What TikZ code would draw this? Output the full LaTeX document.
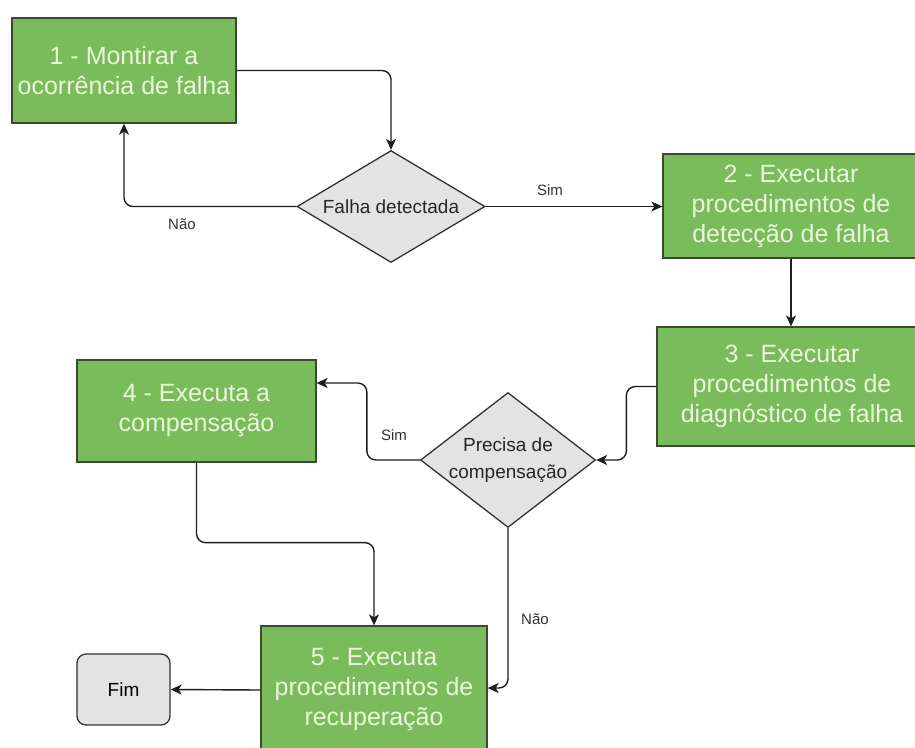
\documentclass[tikz,border=0pt]{standalone}
\usepackage{fontspec}
\setmainfont{Liberation Sans}
\usetikzlibrary{shapes.geometric,arrows.meta,calc}

\definecolor{boxgreen}{RGB}{122,188,92}
\definecolor{boxline}{RGB}{58,72,52}
\definecolor{boxtext}{RGB}{234,248,218}
\definecolor{decfill}{RGB}{227,227,227}
\definecolor{decline}{RGB}{50,50,50}
\definecolor{wire}{RGB}{30,30,30}

\tikzset{
  procbox/.style={rectangle, draw=boxline, fill=boxgreen, line width=1.3pt,
    text=boxtext, align=center, inner sep=0pt,
    font=\fontsize{25}{30}\selectfont},
  decision/.style={diamond, draw=decline, fill=decfill, line width=1.3pt,
    inner sep=0pt, aspect=1.5},
  dectext/.style={align=center, text=black!85, font=\fontsize{19}{27}\selectfont},
  endbox/.style={rectangle, rounded corners=9pt, draw=decline, fill=decfill,
    line width=1.3pt, inner sep=0pt, font=\fontsize{19}{23}\selectfont},
  flow/.style={draw=wire, line width=1.4pt, rounded corners=9pt,
    -{Stealth[length=11pt,width=10pt,inset=3pt]}},
  edgelabel/.style={text=black!80, font=\fontsize{15}{18}\selectfont}
}

\begin{document}
\begin{tikzpicture}[x=1pt,y=-1pt]
\useasboundingbox (0,0) rectangle (915,747);
\clip (0,0) rectangle (915,747);
\fill[white] (0,0) rectangle (915,747);

% process boxes
\node[procbox, minimum width=224pt, minimum height=105pt] (b1) at (124,70.5)
  {1 - Montirar a\\ocorrência de falha};
\node[procbox, minimum width=256pt, minimum height=104pt] (b2) at (791,206)
  {2 - Executar\\procedimentos de\\detecção de falha};
\node[procbox, minimum width=270pt, minimum height=119pt] (b3) at (792,386.5)
  {3 - Executar\\procedimentos de\\diagnóstico de falha};
\node[procbox, minimum width=239pt, minimum height=102pt] (b4) at (196.5,411)
  {4 - Executa a\\compensação};
\node[procbox, minimum width=226pt, minimum height=128pt] (b5) at (374,690)
  {5 - Executa\\procedimentos de\\recuperação};

% decisions
\node[decision, minimum width=188pt, minimum height=112pt,
  label={[dectext]center:Falha detectada}] (d1) at (391,206.5) {};
\node[decision, minimum width=175pt, minimum height=135pt,
  label={[dectext]center:Precisa de\\compensação}] (d2) at (508,460) {};

% terminal
\node[endbox, minimum width=93pt, minimum height=71pt] (fim) at (123.5,689.5) {Fim};

% connectors
\draw[flow] (b1.east) -| (d1.north);
\draw[flow] (d1.west) -| (b1.south);
\draw[flow] (d1.east) -- (d1.east -| b2.west);
\draw[flow] (b2.south) -- (b2.south |- b3.north);
\draw[flow] (b3.west) -- ++(-30,0) |- (d2.east);
\draw[flow] (d2.west) -- ++(-53,0) |- ([yshift=28pt]b4.east);
\draw[flow] (d2.south) |- ([yshift=2pt]b5.east);
\draw[flow] (b4.south) -- ++(0,80) -| (b5.north);
\draw[flow] (b5.west) -- (fim.east);

% branch labels
\node[edgelabel] (l1) at (182,224) {Não};
\node[edgelabel] (l2) at (550,190) {Sim};
\node[edgelabel] (l3) at (394,435) {Sim};
\node[edgelabel] (l4) at (535,619) {Não};
\end{tikzpicture}
\end{document}
